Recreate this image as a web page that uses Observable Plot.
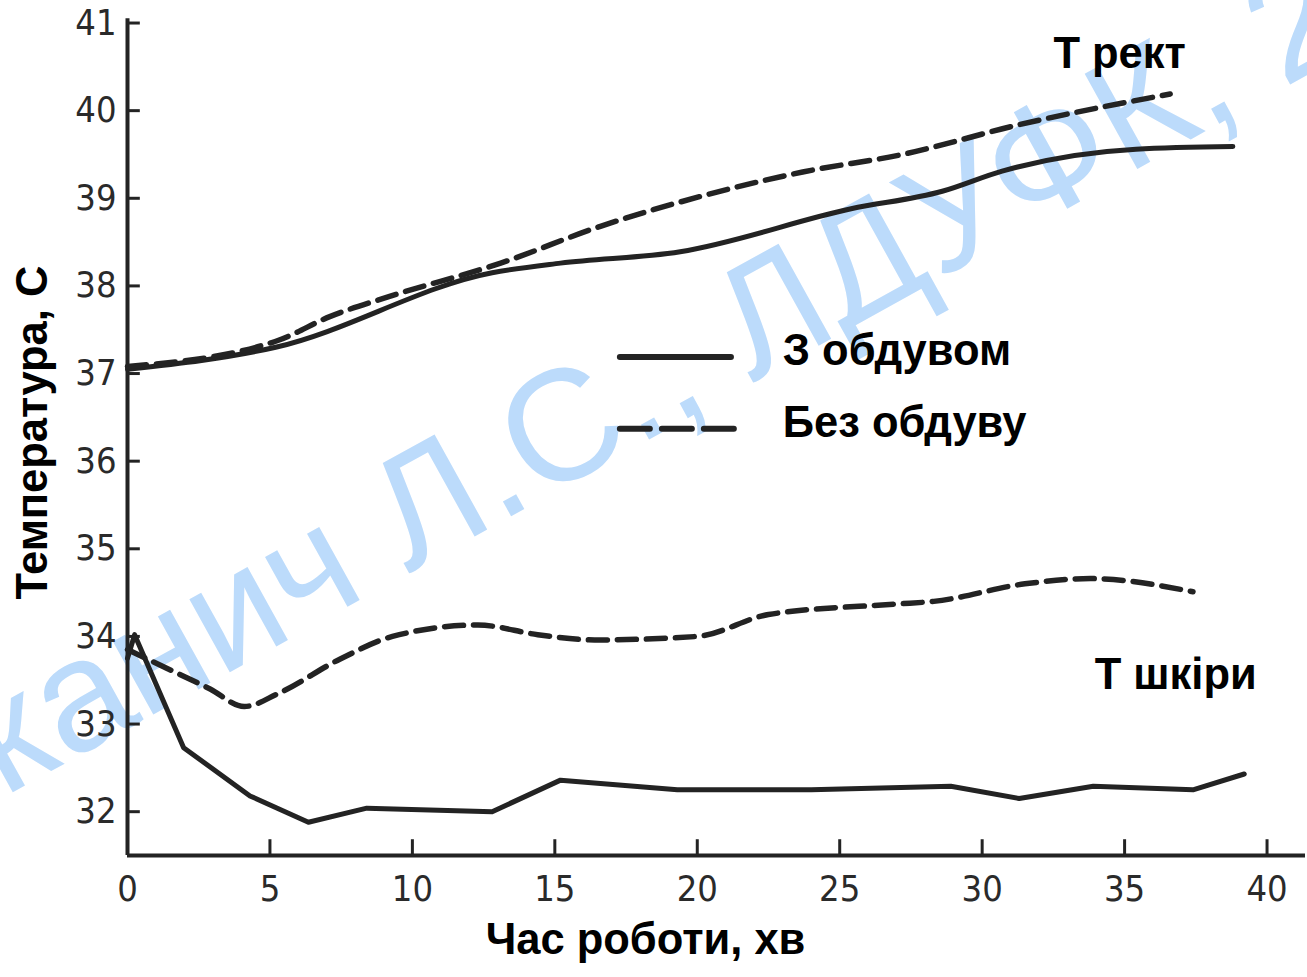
<!DOCTYPE html>
<html><head><meta charset="utf-8">
<script src="https://cdn.jsdelivr.net/npm/d3@7"></script>
<script src="https://cdn.jsdelivr.net/npm/@observablehq/plot@0.6"></script>
<style>body{margin:0;background:#fff} svg{overflow:visible}</style>
</head><body><div id="chart"></div>
<script>
// ---- data ----
const xTicks = [0, 5, 10, 15, 20, 25, 30, 35, 40];
const yTicks = [32, 33, 34, 35, 36, 37, 38, 39, 40, 41];

const rectSolidT = [0, 5.2, 12.8, 15.2, 19.4, 25.4, 28.6, 30.7, 35.4, 38.8];
const rectSolidV = [37.05, 37.3, 38.15, 38.26, 38.39, 38.88, 39.08, 39.31, 39.56, 39.59];

const rectDashT = [0, 5.3, 7.1, 9.2, 13.1, 16.6, 20.1, 23.7, 27.2, 31.3, 36.6];
const rectDashV = [37.08, 37.38, 37.65, 37.88, 38.26, 38.68, 39.02, 39.3, 39.5, 39.84, 40.19];

const skinSolidT = [0, 0.25, 1.97, 4.3, 6.35, 8.4, 12.8, 15.2, 19.3, 24, 28.9, 31.3, 33.9, 37.4, 39.2];
const skinSolidV = [33.75, 34.02, 32.73, 32.18, 31.88, 32.04, 32.0, 32.36, 32.25, 32.25, 32.29, 32.15, 32.29, 32.25, 32.43];

const skinDashT = [0, 1.1, 2.9, 4.1, 5.3, 7.45, 9.3, 12.3, 14.4, 16.4, 20.0, 22.5, 27.0, 28.3, 31.5, 33.8, 37.4];
const skinDashV = [33.85, 33.68, 33.4, 33.2, 33.35, 33.74, 34.0, 34.13, 34.02, 33.96, 34.0, 34.25, 34.37, 34.4, 34.6, 34.66, 34.51];

const seriesNames = ["З обдувом", "Без обдуву"];
const groupNames = ["Т рект", "Т шкіри"];
const xTitle = "Час роботи, хв";
const yTitle = "Температура, С";
const watermark = "канич Л.С., ЛДУФК, 2";

// ---- build ----
const zip = (t, v) => t.map((d, i) => ({t: d, v: v[i]}));
const rectSolid = zip(rectSolidT, rectSolidV);
const rectDash = zip(rectDashT, rectDashV);
const skinSolid = zip(skinSolidT, skinSolidV);
const skinDash = zip(skinDashT, skinDashV);

// layout (positions in data units, styling only)
const L = {
  legendX1: 17.3, legendX2: [21.2, 21.55], legendTextX: 23.0,
  legendY: [37.19, 36.37],
  rectLabel: {x: 32.5, y: 40.65},
  skinLabel: {x: 33.95, y: 33.56}
};

const ink = "#232323";
const dash = "19,10";
const tickFont = "'DejaVu Sans Condensed', 'Liberation Sans Narrow', 'DejaVu Sans', sans-serif";
const boldFont = "'Liberation Sans', Arial, sans-serif";
const fs = 43.5;

const legendData = seriesNames.map((name, i) => ({name, i, y: L.legendY[i], x2: L.legendX2[i]}));

const chart = Plot.plot({
  width: 1307, height: 977,
  marginLeft: 127, marginRight: 2, marginTop: 5, marginBottom: 122,
  x: {domain: [0, 41.35], axis: null},
  y: {domain: [31.5, 41.2], axis: null},
  style: {background: "white", overflow: "visible"},
  marks: [
    // watermark
    Plot.text([watermark], {frameAnchor: "bottom-left", dx: -124, dy: -58, text: d => d,
      rotate: -29, textAnchor: "start", lineAnchor: "bottom", fontSize: 158,
      fontFamily: "'Liberation Sans', Arial, sans-serif", fill: "#bcdbfb"}),
    // axes
    Plot.ruleX([0], {y1: 31.5, y2: 41.05, stroke: ink, strokeWidth: 4}),
    Plot.ruleY([31.5], {x1: 0, x2: 41.35, stroke: ink, strokeWidth: 4}),
    Plot.ruleY(yTicks, {x1: 0, x2: 0.45, stroke: ink, strokeWidth: 3}),
    Plot.ruleX(xTicks, {y1: 31.5, y2: 31.68, stroke: ink, strokeWidth: 3}),
    Plot.text(yTicks, {x: 0, y: d => d, text: d => String(d), textAnchor: "end", dx: -11,
      fontSize: 36, fontFamily: tickFont, fill: "#2a2a2a"}),
    Plot.text(xTicks, {x: d => d, y: 31.5, text: d => String(d), dy: 34,
      fontSize: 36, fontFamily: tickFont, fill: "#2a2a2a"}),
    // axis titles
    Plot.text([xTitle], {frameAnchor: "bottom-left", dx: 518, dy: 98, text: d => d,
      textAnchor: "middle", fontSize: fs, fontWeight: "bold", fontFamily: boldFont, fill: "#000"}),
    Plot.text([yTitle], {frameAnchor: "left", dx: -94, dy: 2, text: d => d, rotate: -90,
      textAnchor: "middle", fontSize: fs, fontWeight: "bold", fontFamily: boldFont, fill: "#000"}),
    // data lines
    Plot.line(rectSolid, {x: "t", y: "v", stroke: ink, strokeWidth: 5, curve: "monotone-x", strokeLinecap: "round"}),
    Plot.line(rectDash, {x: "t", y: "v", stroke: ink, strokeWidth: 5.5, curve: "monotone-x", strokeDasharray: dash, strokeLinecap: "round"}),
    Plot.line(skinSolid, {x: "t", y: "v", stroke: ink, strokeWidth: 5, curve: "linear", strokeLinejoin: "round", strokeLinecap: "round"}),
    Plot.line(skinDash, {x: "t", y: "v", stroke: ink, strokeWidth: 5.5, curve: "monotone-x", strokeDasharray: dash, strokeLinecap: "round"}),
    // legend
    Plot.ruleY(legendData.filter(d => d.i === 0), {y: "y", x1: L.legendX1, x2: "x2", stroke: ink, strokeWidth: 6, strokeLinecap: "round"}),
    Plot.ruleY(legendData.filter(d => d.i === 1), {y: "y", x1: L.legendX1, x2: "x2", stroke: ink, strokeWidth: 6,
      strokeDasharray: "30,12", strokeLinecap: "round"}),
    Plot.text(legendData, {x: L.legendTextX, y: "y", text: "name", textAnchor: "start", dy: -6,
      fontSize: fs, fontWeight: "bold", fontFamily: boldFont, fill: "#000"}),
    // group labels
    Plot.text([groupNames[0]], {x: L.rectLabel.x, y: L.rectLabel.y, text: d => d, textAnchor: "start",
      fontSize: fs, fontWeight: "bold", fontFamily: boldFont, fill: "#000"}),
    Plot.text([groupNames[1]], {x: L.skinLabel.x, y: L.skinLabel.y, text: d => d, textAnchor: "start",
      fontSize: fs, fontWeight: "bold", fontFamily: boldFont, fill: "#000"})
  ]
});
document.getElementById("chart").append(chart);
</script></body></html>
